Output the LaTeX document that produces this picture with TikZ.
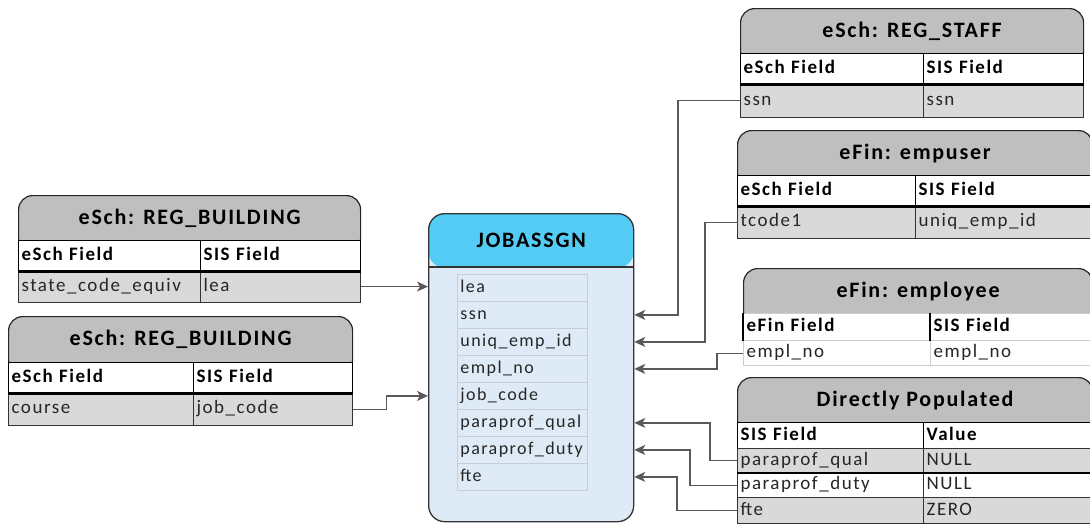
\documentclass[tikz,border=0pt]{standalone}
\usepackage{fontspec}
\setmainfont{Carlito}[LetterSpace=8]
\usetikzlibrary{arrows.meta}
\definecolor{headgrey}{RGB}{191,191,191}
\definecolor{rowgrey}{RGB}{217,217,217}
\definecolor{jobblue}{RGB}{84,204,246}
\definecolor{jobbody}{RGB}{222,235,247}
\definecolor{fieldline}{RGB}{196,206,216}
\definecolor{lightline}{RGB}{205,205,205}
\definecolor{linkgrey}{RGB}{89,89,89}
\definecolor{textgrey}{RGB}{38,38,38}

\begin{document}
\begin{tikzpicture}[
    x=1pt, y=-1pt,
    tabhead/.style={draw=black!85, line width=1.2pt, fill=headgrey, rounded corners=14pt, anchor=north west, minimum height=57pt, text height=10pt, text depth=10pt, inner sep=0pt, font=\bfseries\fontsize{22}{22}\selectfont},
    colhead/.style={draw=black, line width=1.2pt, fill=white, anchor=north west, align=left, inner xsep=3pt, inner ysep=0pt, text height=13pt, text depth=4pt, font=\bfseries\fontsize{19}{19}\selectfont},
    datacell/.style={colhead, draw=black!80, fill=rowgrey, text=textgrey, font=\fontsize{19}{19}\selectfont},
    sepline/.style={line width=3pt, black},
    jobbox/.style={draw=black!80, line width=1.3pt, fill=jobbody, rounded corners=16pt, anchor=north west, minimum width=205pt, minimum height=308pt, inner sep=0pt,
      path picture={\fill[jobblue] (path picture bounding box.north west) rectangle ([yshift=-54pt]path picture bounding box.north east);}},
    jobfield/.style={draw=fieldline, line width=0.8pt, anchor=north west, text width=124pt, minimum height=27pt, inner xsep=3pt, inner ysep=0pt, align=left, text height=13pt, text depth=4pt, text=textgrey, font=\fontsize{18}{18}\selectfont},
    link/.style={-{Stealth[length=11pt, width=10pt, inset=3pt]}, line width=1.2pt, draw=linkgrey}
  ]
    \useasboundingbox (0,0) rectangle (1090,523);

    % left side sources
    \node[tabhead, minimum width=342pt] at (18,195) (aHead) {eSch: REG\_BUILDING};
    \node[colhead, text width=176pt, minimum height=30pt] at (18,240)  (aCol1) {eSch Field};
    \node[colhead, text width=154pt, minimum height=30pt] at (200,240) (aCol2) {SIS Field};
    \node[datacell, text width=176pt, minimum height=32pt] at (18,270)  (aKey) {state\_code\_equiv};
    \node[datacell, text width=154pt, minimum height=32pt] at (200,270) (aVal) {lea};
    \draw[sepline] (aCol1.south west) -- (aCol2.south east);

    \node[tabhead, minimum width=344pt] at (8,316) (bHead) {eSch: REG\_BUILDING};
    \node[colhead, text width=179pt, minimum height=30pt] at (8,362)   (bCol1) {eSch Field};
    \node[colhead, text width=153pt, minimum height=30pt] at (193,362) (bCol2) {SIS Field};
    \node[datacell, text width=179pt, minimum height=33pt] at (8,392)   (bKey) {course};
    \node[datacell, text width=153pt, minimum height=33pt] at (193,392) (bVal) {job\_code};
    \draw[sepline] (bCol1.south west) -- (bCol2.south east);

    % target table
    \node[jobbox] at (428,213) (job) {};
    \draw[line width=1.2pt, black!80] ([yshift=-54pt]job.north west) -- ([yshift=-54pt]job.north east);
    \node[font=\bfseries\fontsize{22}{22}\selectfont] at ([yshift=-27pt]job.north) (jobTitle) {JOBASSGN};
    \node[jobfield] at (457,274) (jLea)  {lea};
    \node[jobfield] at (457,301) (jSsn)  {ssn};
    \node[jobfield] at (457,328) (jUniq) {uniq\_emp\_id};
    \node[jobfield] at (457,355) (jEmpl) {empl\_no};
    \node[jobfield] at (457,382) (jJob)  {job\_code};
    \node[jobfield] at (457,409) (jQual) {paraprof\_qual};
    \node[jobfield] at (457,436) (jDuty) {paraprof\_duty};
    \node[jobfield] at (457,463) (jFte)  {fte};

    % right side sources
    \node[tabhead, minimum width=343pt] at (740,8) (cHead) {eSch: REG\_STAFF};
    \node[colhead, text width=177pt, minimum height=30pt] at (740,53) (cCol1) {eSch Field};
    \node[colhead, text width=154pt, minimum height=30pt] at (923,53) (cCol2) {SIS Field};
    \node[datacell, text width=177pt, minimum height=34pt] at (740,83) (cKey) {ssn};
    \node[datacell, text width=154pt, minimum height=34pt] at (923,83) (cVal) {ssn};
    \draw[sepline] (cCol1.south west) -- (cCol2.south east);

    \node[tabhead, minimum width=355pt] at (737,130) (dHead) {eFin: empuser};
    \node[colhead, text width=172pt, minimum height=30pt] at (737,175) (dCol1) {eSch Field};
    \node[colhead, text width=171pt, minimum height=30pt] at (915,175) (dCol2) {SIS Field};
    \node[datacell, text width=172pt, minimum height=33pt] at (737,205) (dKey) {tcode1};
    \node[datacell, text width=171pt, minimum height=33pt] at (915,205) (dVal) {uniq\_emp\_id};
    \draw[sepline] (dCol1.south west) -- (dCol2.south east);

    \node[tabhead, minimum width=349pt] at (743,268) (eHead) {eFin: employee};
    \node[colhead, draw=lightline, text width=181pt, minimum height=27pt] at (743,313) (eCol1) {eFin Field};
    \node[colhead, draw=lightline, text width=156pt, minimum height=27pt] at (930,313) (eCol2) {SIS Field};
    \node[datacell, draw=lightline, fill=white, text width=181pt, minimum height=25pt] at (743,340) (eKey) {empl\_no};
    \node[datacell, draw=lightline, fill=white, text width=156pt, minimum height=25pt] at (930,340) (eVal) {empl\_no};
    \draw[line width=1.5pt] (eCol1.north west) -- (eCol1.south west);
    \draw[line width=1.5pt] (eCol2.north west) -- (eCol2.south west);

    \node[tabhead, minimum width=355pt] at (737,377) (fHead) {Directly Populated};
    \node[colhead, text width=180pt, minimum height=26pt] at (737,422) (fCol1) {SIS Field};
    \node[colhead, text width=163pt, minimum height=26pt] at (923,422) (fCol2) {Value};
    \node[datacell, text width=180pt, minimum height=24pt] at (737,448) (fKey1) {paraprof\_qual};
    \node[datacell, text width=163pt, minimum height=24pt] at (923,448) (fVal1) {NULL};
    \node[datacell, fill=white, text width=180pt, minimum height=25pt] at (737,472) (fKey2) {paraprof\_duty};
    \node[datacell, fill=white, text width=163pt, minimum height=25pt] at (923,472) (fVal2) {NULL};
    \node[datacell, text width=180pt, minimum height=26pt] at (737,497) (fKey3) {fte};
    \node[datacell, text width=163pt, minimum height=26pt] at (923,497) (fVal3) {ZERO};
    \draw[line width=2pt] (fKey1.south west) -- (fVal1.south east);

    % mappings
    \draw[link] (aVal.east) -- (aVal.east -| job.west);
    \draw[link] (bVal.east) -- ++(33,0) |- (jJob.west -| job.west);
    \draw[link] (cKey.west) -- ++(-62,0) |- (jSsn.east -| job.east);
    \draw[link] (dKey.west) -- ++(-32,0) |- (jUniq.east -| job.east);
    \draw[link] (eKey.west) -- ++(-26,0) |- (jEmpl.east -| job.east);
    \draw[link] (fKey1.west) -- ++(-27,0) |- (jQual.east -| job.east);
    \draw[link] (fKey2.west) -- ++(-47,0) |- (jDuty.east -| job.east);
    \draw[link] (fKey3.west) -- ++(-60,0) |- (jFte.east -| job.east);
  \end{tikzpicture}
\end{document}
